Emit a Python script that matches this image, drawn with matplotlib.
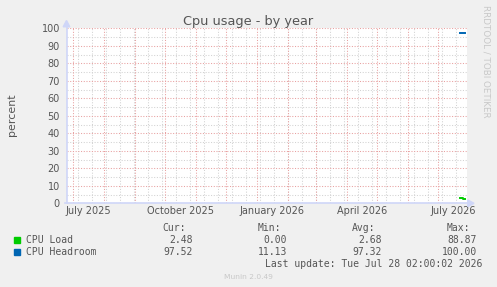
import datetime as dt
import matplotlib
matplotlib.use('Agg')
import matplotlib.pyplot as plt
from matplotlib.patches import Rectangle, Polygon
from matplotlib.lines import Line2D

W, H = 497, 287

# daily averages, only the last days of the year hold data
days = ['2026-07-23', '2026-07-24', '2026-07-25', '2026-07-26', '2026-07-27', '2026-07-28']
cpu_load = [2.75, 2.75, 2.75, 2.48, 2.48, 2.48]
cpu_headroom = [97.25, 97.25, 97.25, 97.52, 97.52, 97.52]

series = ['CPU Load', 'CPU Headroom']
colors = ['#00CC00', '#0066B3']
cur = ['2.48', '97.52']
mins = ['0.00', '11.13']
avgs = ['2.68', '97.32']
maxs = ['88.87', '100.00']

x_labels = ['July 2025', 'October 2025', 'January 2026', 'April 2026', 'July 2026']
label_days = ['2025-07-16', '2025-10-16', '2026-01-16', '2026-04-16', '2026-07-16']
y_ticks = list(range(0, 101, 10))

start = dt.datetime(2025, 6, 24, 5)
end = start + dt.timedelta(days=400)

txt = '#555555'
axis_col = '#CFD6F8'


def P(x, y):
    # pixel position (from top-left) -> figure fraction
    return x / W, 1 - y / H


def d(s):
    return dt.datetime.strptime(s, '%Y-%m-%d')


fig = plt.figure(figsize=(W / 100, H / 100), dpi=100, facecolor='#F0F0F0')
ax = fig.add_axes([66.5 / W, 1 - 203.3 / H, 400 / W, 175 / H])
ax.set_facecolor('white')
ax.set_xlim(start, end)
ax.set_ylim(0, 100)

# grid, dotted like rrdtool
dots = (0, (1, 1.6))
for v in range(5, 100, 10):
    ax.axhline(v, color='#d2d2d2', lw=0.75, ls=dots, zorder=1)
g = dt.datetime(2025, 7, 6)
while g < end:
    ax.axvline(g, color='#d2d2d2', lw=0.75, ls=dots, zorder=1)
    g += dt.timedelta(days=14)
for v in y_ticks:
    ax.axhline(v, color='#e8a0a0', lw=0.75, ls=dots, zorder=2)
y, m = 2025, 7
while dt.datetime(y, m, 1) < end:
    ax.axvline(dt.datetime(y, m, 1), color='#e8a0a0', lw=0.75, ls=dots, zorder=2)
    m += 1
    if m > 12:
        y, m = y + 1, 1

xs = [d(s) for s in days]
ax.step(xs, cpu_load, where='post', color=colors[0], lw=1.4, zorder=5)
ax.step(xs, cpu_headroom, where='post', color=colors[1], lw=1.4, zorder=5)

for s in ax.spines.values():
    s.set_visible(False)
ax.set_yticks(y_ticks)
ax.set_xticks([d(s) for s in label_days])
ax.set_xticklabels(x_labels)
ax.tick_params(axis='y', length=0, pad=4.7, labelsize=7, labelcolor=txt)
ax.tick_params(axis='x', length=0, pad=2.2, labelsize=7, labelcolor=txt)

# axes with arrows
fig.add_artist(Line2D(*zip(P(66.5, 203.3), P(66.5, 24)), color=axis_col, lw=1.2))
fig.add_artist(Line2D(*zip(P(65, 203.3), P(469, 203.3)), color=axis_col, lw=1.2))
fig.add_artist(Polygon([P(66.5, 20.5), P(63.2, 26.8), P(69.8, 26.8)],
                       closed=True, color=axis_col, transform=fig.transFigure))
fig.add_artist(Polygon([P(474, 203.3), P(467.8, 200.0), P(467.8, 206.6)],
                       closed=True, color=axis_col, transform=fig.transFigure))

fig.text(*P(248, 25), 'Cpu usage - by year', ha='center', va='baseline',
         fontsize=9.3, color=txt)
fig.text(*P(11.5, 115), 'percent', rotation=90, ha='center', va='center',
         fontsize=7.9, color=txt)
fig.text(*P(486, 5), 'RRDTOOL / TOBI OETIKER', rotation=270, ha='center', va='top',
         fontsize=6.3, color='#c8c8c8')

# legend block
mono = 'DejaVu Sans Mono'
heads = [('Cur:', 186), ('Min:', 281), ('Avg:', 375.7), ('Max:', 470)]
for h, xr in heads:
    fig.text(*P(xr, 231), h, ha='right', va='baseline', family=mono, fontsize=7, color=txt)
cols = [cur, mins, avgs, maxs]
xr_vals = [192.7, 287.3, 381.7, 476.7]
for i, name in enumerate(series):
    yb = 243.3 + i * 12
    fig.add_artist(Rectangle(P(14, yb - 0.7), 5.6 / W, 5.6 / H, color=colors[i],
                             transform=fig.transFigure))
    fig.text(*P(26, yb), name, ha='left', va='baseline', family=mono, fontsize=7, color=txt)
    for c, xr in zip(cols, xr_vals):
        fig.text(*P(xr, yb), c[i], ha='right', va='baseline', family=mono,
                 fontsize=7, color=txt)
fig.text(*P(482.3, 266.8), 'Last update: Tue Jul 28 02:00:02 2026', ha='right',
         va='baseline', family=mono, fontsize=7, color=txt)
fig.text(*P(248.8, 279), 'Munin 2.0.49', ha='center', va='baseline',
         fontsize=5.4, color='#c8c8c8')

fig.savefig('out.png', dpi=100, facecolor=fig.get_facecolor())
